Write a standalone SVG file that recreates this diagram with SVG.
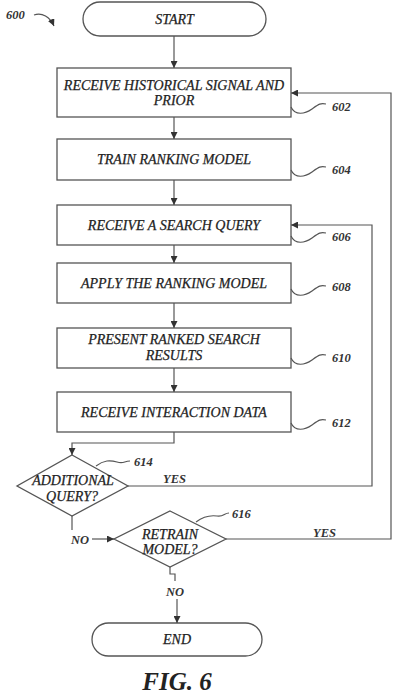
<svg xmlns="http://www.w3.org/2000/svg" width="407" height="700" viewBox="0 0 407 700">
<style>
.s{fill:#fff;stroke:#555;stroke-width:1.3}
.c{fill:none;stroke:#555;stroke-width:1.2}
.t{font-family:"Liberation Serif",serif;font-style:italic;font-size:14px;fill:#222;stroke:#222;stroke-width:0.25;text-anchor:middle}
.r{font-family:"Liberation Serif",serif;font-style:italic;font-weight:bold;font-size:12.5px;fill:#333}
</style>
<defs>
<marker id="a" viewBox="0 0 10 10" refX="10" refY="5" markerWidth="7" markerHeight="7" orient="auto" markerUnits="userSpaceOnUse">
<path d="M0,0 L10,5 L0,10 z" fill="#333"/>
</marker>
</defs>
<g id="label600">
<text class="r" x="6" y="19">600</text>
<path class="c" d="M34,15 C42,12 50,17 54,26" marker-end="url(#a)"/>
</g>
<g id="start">
<rect class="s" x="83" y="2" width="183" height="34" rx="17"/>
<text class="t" x="174.5" y="24">START</text>
</g>
<g id="n602">
<rect class="s" x="57" y="68" width="234" height="49"/>
<text class="t" x="174" y="90">RECEIVE HISTORICAL SIGNAL AND</text>
<text class="t" x="174" y="105">PRIOR</text>
<path class="c" d="M291,107 C295,116 305,114 312,109 S320,103 326,104"/>
<text class="r" x="332" y="111">602</text>
</g>
<g id="n604">
<rect class="s" x="57" y="139" width="234" height="41"/>
<text class="t" x="174" y="164">TRAIN RANKING MODEL</text>
<path class="c" d="M291,170 C295,179 305,177 312,172 S320,166 326,167"/>
<text class="r" x="332" y="174">604</text>
</g>
<g id="n606">
<rect class="s" x="57" y="205" width="234" height="40"/>
<text class="t" x="174" y="230">RECEIVE A SEARCH QUERY</text>
<path class="c" d="M291,236 C295,245 305,243 312,238 S320,232 326,233"/>
<text class="r" x="332" y="241">606</text>
</g>
<g id="n608">
<rect class="s" x="57" y="263" width="234" height="40"/>
<text class="t" x="174" y="288">APPLY THE RANKING MODEL</text>
<path class="c" d="M291,289 C295,298 305,296 312,291 S320,285 326,286"/>
<text class="r" x="332" y="291">608</text>
</g>
<g id="n610">
<rect class="s" x="57" y="328" width="234" height="40"/>
<text class="t" x="174" y="344">PRESENT RANKED SEARCH</text>
<text class="t" x="174" y="360">RESULTS</text>
<path class="c" d="M291,358 C295,367 305,365 312,360 S320,354 326,355"/>
<text class="r" x="332" y="362">610</text>
</g>
<g id="n612">
<rect class="s" x="57" y="392" width="234" height="40"/>
<text class="t" x="174" y="417">RECEIVE INTERACTION DATA</text>
<path class="c" d="M291,423 C295,432 305,430 312,425 S320,419 326,420"/>
<text class="r" x="332" y="427">612</text>
</g>
<g id="n614">
<polygon class="s" points="72,455 128,486 72,516 17,486"/>
<text class="t" x="73" y="485">ADDITIONAL</text>
<text class="t" x="72" y="501">QUERY?</text>
<path class="c" d="M96,466 C104,460 110,460 117,462 S124,461 130,461"/>
<text class="r" x="134" y="466">614</text>
</g>
<g id="n616">
<polygon class="s" points="170,511 226,539 170,567 114,539"/>
<text class="t" x="170" y="539">RETRAIN</text>
<text class="t" x="170" y="554">MODEL?</text>
<path class="c" d="M196,522 C204,516 210,515 217,516 S224,513 229,513"/>
<text class="r" x="232" y="518">616</text>
</g>
<g id="end">
<rect class="s" x="92" y="623" width="170" height="33" rx="16.5"/>
<text class="t" x="177" y="644">END</text>
</g>
<g id="connectors">
<path class="c" d="M174,36 V68" marker-end="url(#a)"/>
<path class="c" d="M174,117 V139" marker-end="url(#a)"/>
<path class="c" d="M174,180 V205" marker-end="url(#a)"/>
<path class="c" d="M174,245 V263" marker-end="url(#a)"/>
<path class="c" d="M174,303 V328" marker-end="url(#a)"/>
<path class="c" d="M174,368 V392" marker-end="url(#a)"/>
<path class="c" d="M174,432 V443 H72 V455" marker-end="url(#a)"/>
<path class="c" d="M128,486 H372 V225 H291" marker-end="url(#a)"/>
<text class="r" x="163" y="483">YES</text>
<path class="c" d="M72,516 V530"/>
<text class="r" x="71" y="544">NO</text>
<path class="c" d="M92,539 H114" marker-end="url(#a)"/>
<path class="c" d="M226,539 H391 V93 H291" marker-end="url(#a)"/>
<text class="r" x="313" y="537">YES</text>
<path class="c" d="M170,567 V574 H175 V581"/>
<text class="r" x="166" y="596">NO</text>
<path class="c" d="M177,599 V623" marker-end="url(#a)"/>
</g>
<g id="caption">
<text x="177" y="690" style="font-family:'Liberation Serif',serif;font-style:italic;font-weight:bold;font-size:25px;fill:#222;text-anchor:middle">FIG. 6</text>
</g>
</svg>
